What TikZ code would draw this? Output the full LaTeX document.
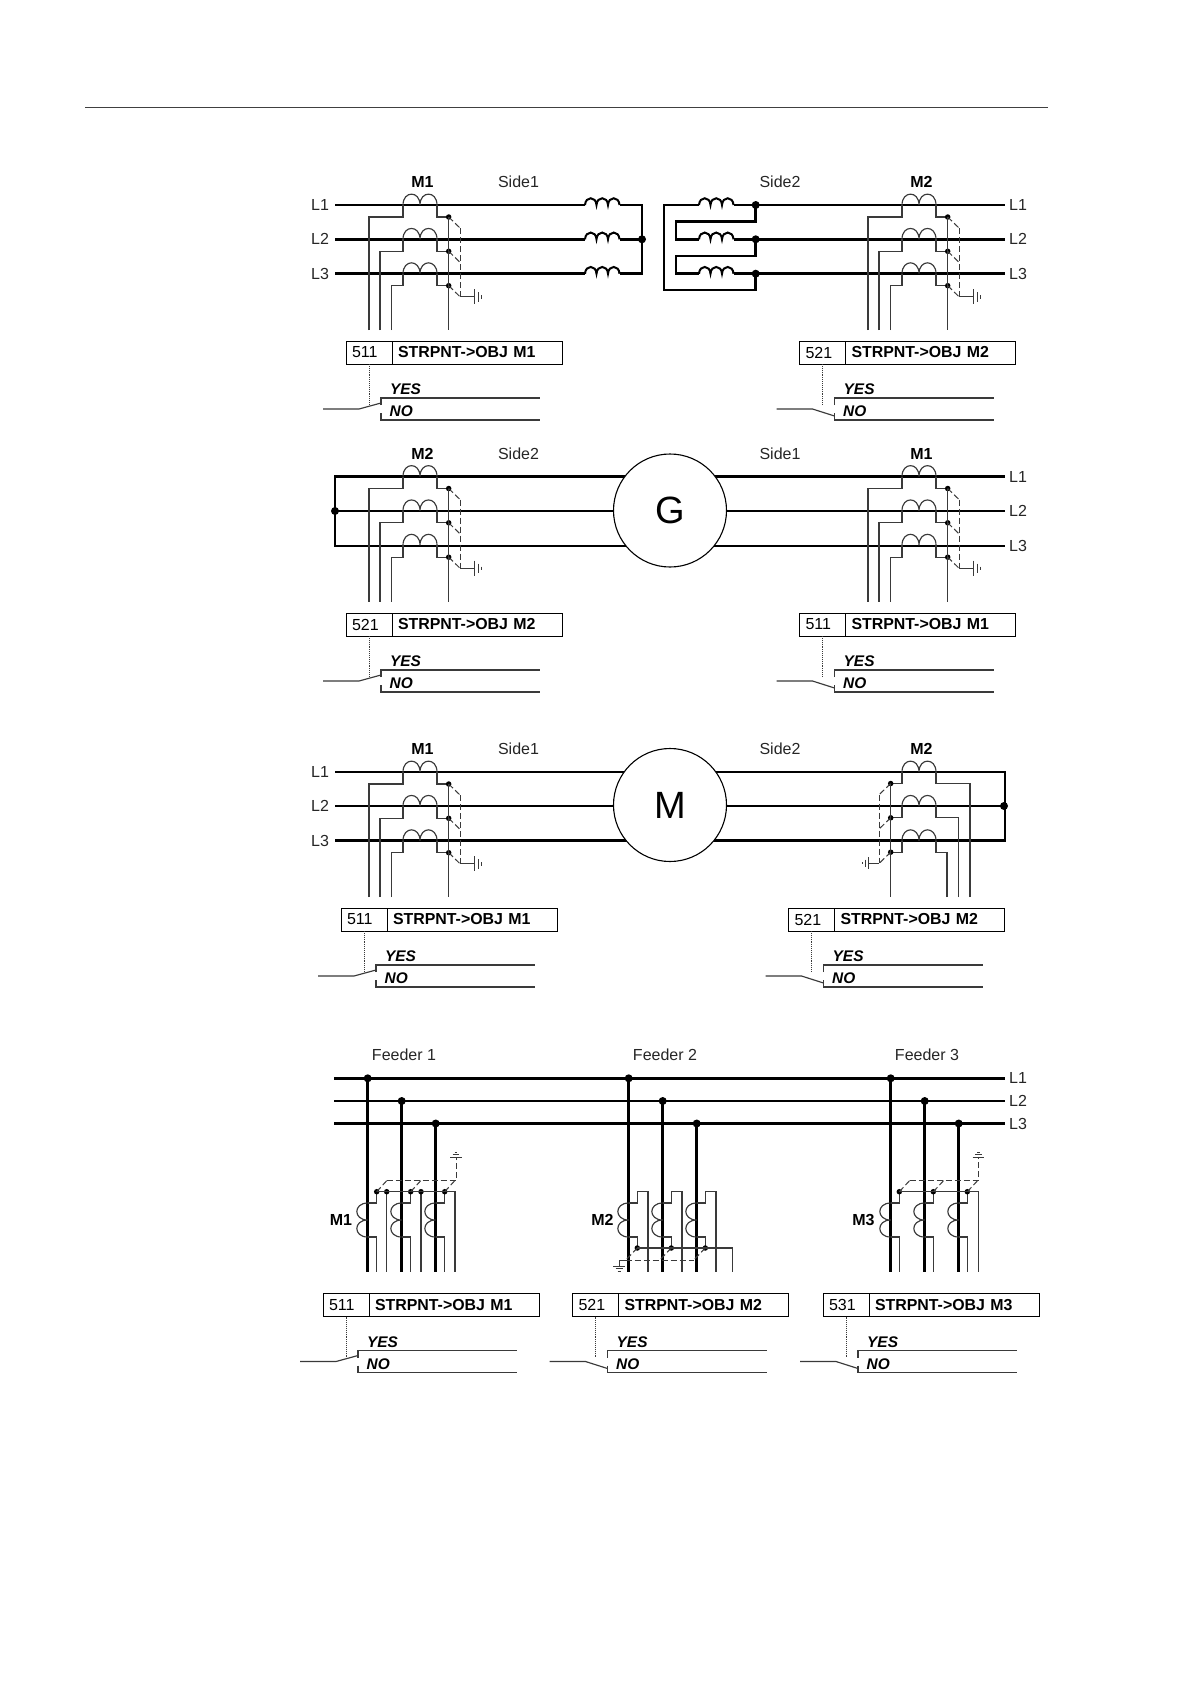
\documentclass[tikz,border=0pt]{standalone}
\usepackage{fontspec}
\setmainfont{Liberation Sans}
\definecolor{wire}{HTML}{3A3A3A}
\tikzset{
  x=1pt,y=-1pt,
  bus/.style={line width=2.5pt,black},
  fine/.style={line width=1.15pt,wire,line join=miter},
  dashline/.style={line width=1pt,wire,dash pattern=on 6pt off 3pt},
  gnd/.style={line width=1pt,wire},
  lab/.style={font=\fontsize{16pt}{17pt}\selectfont,inner sep=0pt,text=black!85},
  blab/.style={font=\fontsize{16pt}{17pt}\selectfont\bfseries,inner sep=0pt},
  optlab/.style={font=\fontsize{15.4pt}{16pt}\selectfont\bfseries\itshape,inner sep=0pt,anchor=west},
  numbox/.style={draw,line width=1pt,anchor=north west,minimum height=23pt,outer sep=0pt,inner ysep=0pt,inner xsep=6pt,text width=34pt,font=\fontsize{16pt}{17pt}\selectfont},
  txtbox/.style={draw,line width=1pt,anchor=north west,minimum height=23pt,outer sep=0pt,inner ysep=0pt,inner xsep=6pt,text width=158pt,font=\fontsize{15.9pt}{17pt}\selectfont\bfseries},
  machine/.style={circle,draw,fill=white,line width=1.1pt,minimum size=113pt,inner sep=0pt,font=\fontsize{38pt}{40pt}\selectfont},
  bigdot/.style={circle,fill=black,inner sep=0pt,minimum size=8pt},
  smalldot/.style={circle,fill=black,inner sep=0pt,minimum size=5.5pt},
}
% two-hump coil on a horizontal line, left end at (0,dy)
\newcommand{\humps}[1]{\draw[fine] (0,#1) .. controls (0,#1-14.5) and (17,#1-14.5) .. (17,#1) .. controls (17,#1-14.5) and (34,#1-14.5) .. (34,#1);}
% CT group, earth side to the right; origin = left end of top coil
\newcommand{\ctright}[2]{\begin{scope}[shift={(#1,#2)}]
  \foreach \dy/\w in {0/-34,34.3/-23,68.7/-11.7}{
    \humps{\dy}
    \draw[fine] (\w,125) -- (\w,\dy+12) -- (0,\dy+12) -- (0,\dy);
    \draw[fine] (34,\dy) -- (34,\dy+12) -- (45.7,\dy+12);
    \node[smalldot] at (45.7,\dy+12) {};
    \draw[dashline] (45.7,\dy+12) -- (57,\dy+23);
  }
  \draw[fine] (45.7,12) -- (45.7,125);
  \draw[dashline] (57,23) -- (57,91.7);
  \draw[gnd] (57,91.7) -- (71,91.7) (71,84) -- (71,99) (75,87) -- (75,96.5) (78,90) -- (78,93.5);
\end{scope}}
% CT group, earth side to the left
\newcommand{\ctleft}[2]{\begin{scope}[shift={(#1,#2)}]
  \foreach \dy/\w in {0/68,34.3/56.7,68.7/45}{
    \humps{\dy}
    \draw[fine] (\w,125) -- (\w,\dy+11.5) -- (34,\dy+11.5) -- (34,\dy);
    \draw[fine] (0,\dy) -- (0,\dy+11.5) -- (-11.3,\dy+11.5);
    \node[smalldot] at (-11.3,\dy+11.5) {};
    \draw[dashline] (-11.3,\dy+11.5) -- (-22.7,\dy+22.5);
  }
  \draw[fine] (-11.3,11.5) -- (-11.3,125);
  \draw[dashline] (-22.7,22.5) -- (-22.7,91);
  \draw[gnd] (-22.7,91) -- (-34,91) (-34,85) -- (-34,97) (-37,87.5) -- (-37,94.5) (-40,90) -- (-40,92);
\end{scope}}
% parameter block: name, x, y, number, text, contact end
\newcommand{\blk}[6]{\begin{scope}[shift={(#2,#3)}]
  \node[numbox] (#1n) at (0,0) {#4};
  \node[txtbox] (#1t) at (#1n.north east) {#5};
  \coordinate (#1a) at (-23,68);
  \coordinate (#1b) at (13,68);
  \coordinate (#1c) at (35,#6);
  \draw[line width=.9pt,densely dotted,wire] (#1n.south) -- ++(0,41);
  \draw[fine] (#1a) -- (#1b) -- (#1c);
  \draw[fine] (35,64) -- (35,57) -- (194,57) (35,72) -- (35,79) -- (194,79);
  \node[optlab] (#1y) at (44,48.5) {YES};
  \node[optlab] (#1o) at (43.5,70.5) {NO};
\end{scope}}
% vertical feeder coil
\newcommand{\vcoil}[1]{\draw[fine] (#1,1203) .. controls (#1-14.5,1203) and (#1-14.5,1220) .. (#1,1220) .. controls (#1-14.5,1220) and (#1-14.5,1237) .. (#1,1237);}
\newcommand{\thump}[2]{\draw[bus,line width=2pt] (#1,#2) .. controls (#1+0.5,#2-9) and (#1+11,#2-9) .. (#1+11.5,#2) .. controls (#1+12,#2-9) and (#1+22.5,#2-9) .. (#1+23,#2) .. controls (#1+23.5,#2-9) and (#1+34,#2-9) .. (#1+34.5,#2);}
\begin{document}
\begin{tikzpicture}
\useasboundingbox (0,0) rectangle (1190,1684);
\fill[white] (0,0) rectangle (1190,1684);
\draw[line width=1pt,black!75] (85,107.4) -- (1048,107.4);

%% ---- row 1: transformer
\foreach \y/\n/\s in {205/1/664,239.3/2/676,273.7/3/676}{
  \draw[bus] (335,\y) -- (585,\y);
  \thump{585}{\y}
  \draw[bus] (619.5,\y) -- (642,\y);
  \draw[bus] (\s,\y) -- (699,\y);
  \thump{699}{\y}
  \draw[bus] (733.5,\y) -- (1005,\y);
  \node[bigdot] at (755.7,\y) {};
  \node[lab] (ra\n) at (320,\y) {L\n};
  \node[lab] (rb\n) at (1018,\y) {L\n};
}
\draw[bus,line cap=rect] (642,205) -- (642,273.7);
\node[bigdot] (star1) at (642,239.3) {};
\draw[bus,line cap=rect] (676,239.3) -- (676,221.7) -- (755.7,221.7) -- (755.7,205);
\draw[bus,line cap=rect] (676,273.7) -- (676,256) -- (755.7,256) -- (755.7,239.3);
\draw[bus,line cap=rect] (664,205) -- (664,290) -- (755.7,290) -- (755.7,273.7);
\ctright{403}{205}
\ctright{902}{205}
\node[blab] (m1a) at (422.5,182) {M1};
\node[lab] (s1a) at (518.5,182) {Side1};
\node[lab] (s2a) at (780,182) {Side2};
\node[blab] (m2a) at (921.5,182) {M2};
\blk{ba}{346}{341}{511}{STRPNT->OBJ M1}{62}
\blk{bb}{799.5}{341}{521}{STRPNT->OBJ M2}{75}

%% ---- row 2: generator
\foreach \y/\n in {476.5/1,511/2,546/3}{
  \draw[bus] (335,\y) -- (1005,\y);
}
\draw[bus,line cap=rect] (335,476.5) -- (335,546);
\node[bigdot] (star2) at (335,511) {};
\node[machine] (G) at (670,510.5) {G};
\foreach \y/\n in {476.5/1,511/2,546/3}{
  \node[lab] (rc\n) at (1018,\y) {L\n};
}
\ctright{403}{476.5}
\ctright{902}{476.5}
\node[blab] (m2b) at (422.5,454) {M2};
\node[lab] (s2b) at (518.5,454) {Side2};
\node[lab] (s1b) at (780,454) {Side1};
\node[blab] (m1b) at (921.5,454) {M1};
\blk{bc}{346}{613}{521}{STRPNT->OBJ M2}{62}
\blk{bd}{799.5}{613}{511}{STRPNT->OBJ M1}{75}

%% ---- row 3: motor
\foreach \y/\n in {772/1,806/2,840.5/3}{
  \draw[bus] (335,\y) -- (1005,\y);
  \node[lab] (rd\n) at (320,\y) {L\n};
}
\draw[bus,line cap=rect] (1005,772) -- (1005,840.5);
\node[bigdot] (star3) at (1004,806) {};
\node[machine] (M) at (670,805) {M};
\ctright{403}{772}
\ctleft{902}{772}
\node[blab] (m1c) at (422.5,749) {M1};
\node[lab] (s1c) at (518.5,749) {Side1};
\node[lab] (s2c) at (780,749) {Side2};
\node[blab] (m2c) at (921.5,749) {M2};
\blk{be}{341}{908}{511}{STRPNT->OBJ M1}{62}
\blk{bf}{788.5}{908}{521}{STRPNT->OBJ M2}{75}

%% ---- row 4: feeders
\foreach \y/\n in {1078.3/1,1101/2,1123.5/3}{
  \draw[bus] (334,\y) -- (1005,\y);
  \node[lab] (re\n) at (1018,\y) {L\n};
}
\foreach \x/\y in {367.7/1078.3,401.7/1101,435.7/1123.5,628.7/1078.3,662.7/1101,696.7/1123.5,890.7/1078.3,924.7/1101,958.7/1123.5}{
  \draw[bus] (\x,\y) -- (\x,1272);
  \node[bigdot] at (\x,\y) {};
  \vcoil{\x}
}
\node[lab] (f1) at (404,1055) {Feeder 1};
\node[lab] (f2) at (665,1055) {Feeder 2};
\node[lab] (f3) at (927,1055) {Feeder 3};
\node[blab] (mf1) at (341,1220) {M1};
\node[blab] (mf2) at (602.5,1220) {M2};
\node[blab] (mf3) at (863.5,1220) {M3};

% feeder 1
\foreach \x in {367.7,401.7,435.7}{
  \draw[fine] (\x,1203) -- (\x+9,1203) -- (\x+9,1191.7);
  \draw[fine] (\x,1237) -- (\x+9,1237) -- (\x+9,1271.7);
  \node[smalldot] at (\x+9,1191.7) {};
  \draw[dashline] (\x+9,1191.7) -- (\x+19,1180.7);
}
\foreach \x in {386.7,421}{
  \draw[fine] (\x,1191.7) -- (\x,1271.7);
  \node[smalldot] at (\x,1191.7) {};
}
\draw[fine] (376.7,1191.7) -- (455,1191.7) -- (455,1271.7);
\draw[dashline] (386.7,1180.7) -- (456,1180.7) -- (456,1158);
\draw[gnd] (450,1157) -- (461.7,1157) (452.7,1154.5) -- (459,1154.5) (454.5,1152) -- (457.3,1152);

% feeder 2
\foreach \x in {628.7,662.7,696.7}{
  \draw[fine] (\x,1237) -- (\x+8.6,1237) -- (\x+8.6,1248);
  \draw[fine] (\x,1203) -- (\x+8.6,1203) -- (\x+8.6,1191.7) -- (\x+19.3,1191.7) -- (\x+19.3,1271.7);
  \node[smalldot] at (\x+8.6,1248) {};
  \draw[dashline] (\x+8.6,1248) -- (\x-3,1260);
}
\draw[fine] (637.3,1248) -- (732.3,1248) -- (732.3,1271.7);
\draw[dashline] (625.7,1260) -- (693.7,1260);
\draw[gnd] (625.7,1260) -- (619,1260) -- (619,1266) (613,1266) -- (625,1266) (615.7,1268.5) -- (622.5,1268.5) (617.7,1271) -- (620.5,1271);

% feeder 3
\foreach \x in {890.7,924.7,958.7}{
  \draw[fine] (\x,1203) -- (\x+8.6,1203) -- (\x+8.6,1191.7);
  \draw[fine] (\x,1237) -- (\x+8.6,1237) -- (\x+8.6,1271.7);
  \node[smalldot] at (\x+8.6,1191.7) {};
  \draw[dashline] (\x+8.6,1191.7) -- (\x+19,1180.5);
}
\draw[fine] (899.3,1191.7) -- (978.3,1191.7) -- (978.3,1271.7);
\draw[dashline] (909.7,1180.5) -- (978.3,1180.5) -- (978.3,1158);
\draw[gnd] (972.7,1157) -- (984,1157) (975.3,1154.5) -- (981.5,1154.5) (977,1152) -- (979.7,1152);

\blk{bg}{323}{1293.5}{511}{STRPNT->OBJ M1}{62}
\blk{bh}{572.5}{1293.5}{521}{STRPNT->OBJ M2}{75}
\blk{bi}{823}{1293.5}{531}{STRPNT->OBJ M3}{75}
\end{tikzpicture}
\end{document}
